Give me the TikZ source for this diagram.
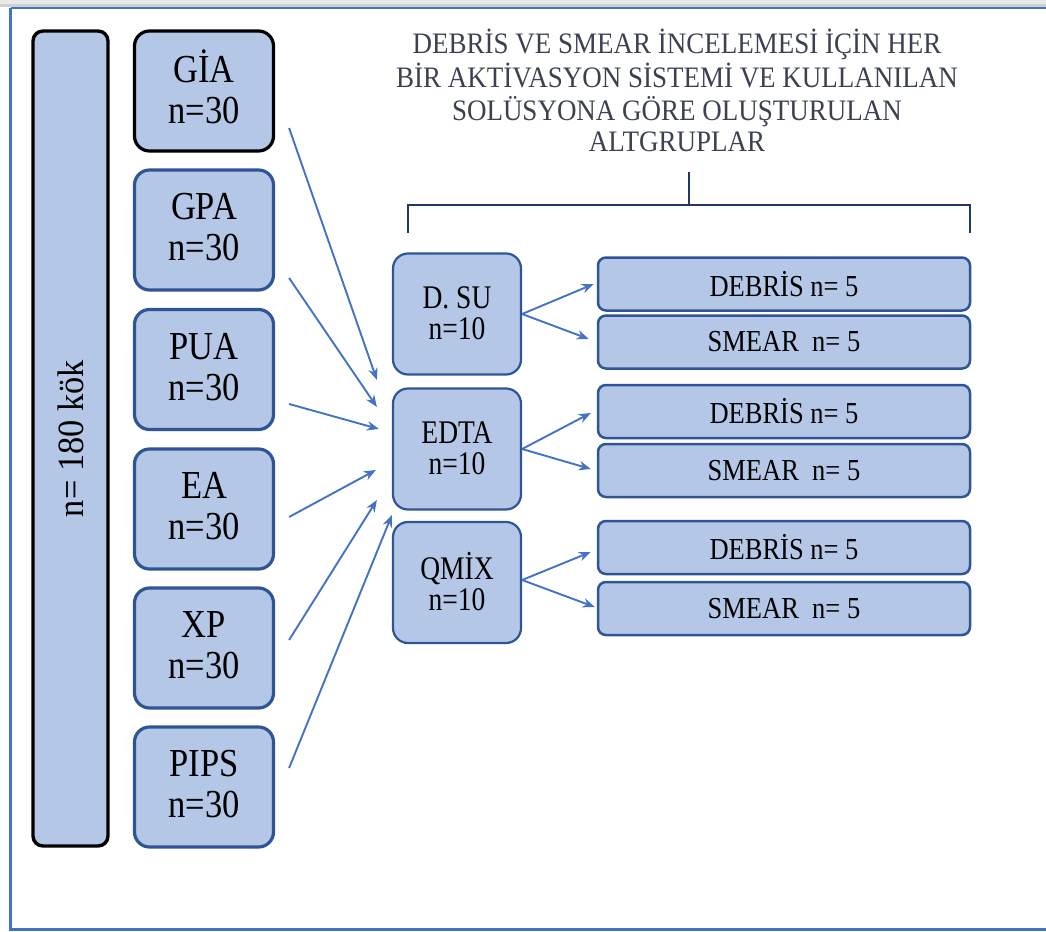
\documentclass[tikz,border=0pt]{standalone}
\usepackage{fontspec}
\setmainfont{Liberation Serif}
\usepackage{graphicx}
\usetikzlibrary{arrows.meta}
\definecolor{fillc}{HTML}{B4C7E7}
\definecolor{bdr}{HTML}{2F5597}
\definecolor{arrc}{HTML}{4472C4}
\definecolor{navyc}{HTML}{203864}
\definecolor{framec}{HTML}{4472C4}
\definecolor{titlec}{HTML}{3B4150}
\newcommand{\vst}[3]{\raisebox{#2}[\height][\depth]{\scalebox{1}[#1]{#3}}}
\newcommand{\twol}[2]{\begin{tabular}{@{}c@{}}#1\\#2\end{tabular}}
\begin{document}
\begin{tikzpicture}[x=1pt,y=-1pt,
  lbox/.style={draw=bdr, fill=fillc, line width=3.2pt, rounded corners=15pt, minimum width=139pt, minimum height=120pt, inner sep=0pt, font=\fontsize{34.5}{35.5}\selectfont},
  mbox/.style={draw=bdr, fill=fillc, line width=2.2pt, rounded corners=15pt, minimum width=128pt, minimum height=121pt, inner sep=0pt, font=\fontsize{27.5}{26}\selectfont},
  rbox/.style={draw=bdr, fill=fillc, line width=2.5pt, rounded corners=8pt, minimum width=372pt, minimum height=53pt, inner sep=0pt, font=\fontsize{26.5}{26}\selectfont},
  bigbar/.style={draw=black, fill=fillc, line width=3.4pt, rounded corners=10pt, minimum width=815pt, minimum height=75pt, inner sep=0pt, font=\fontsize{37}{37}\selectfont},
  arr/.style={draw=arrc, line width=1.9pt, -{Stealth[length=12pt,width=9.5pt]}},
  bracel/.style={draw=navyc, line width=2.6pt},
  frameline/.style={draw=framec, line width=2.6pt}
]
\useasboundingbox (0,0) rectangle (1046,931);
% window frame
\fill[gray!18] (0,0) rectangle (1046,4);
\fill[gray!38] (0,4) rectangle (1046,6.7);
\draw[frameline] (10.5,8) -- (1046,8);
\draw[frameline] (10.5,8) -- (10.5,929.5) -- (1046,929.5);

% big bar
\node[bigbar, rotate=90] (bar) at (70.5,438.5) {\scalebox{0.93}[1]{n= 180 kök}};

% left boxes
\node[lbox, draw=black] (gia) at (204,91) {\vst{1.15}{-2pt}{\twol{GİA}{n=30}}};
\node[lbox] (gpa) at (204,230) {\vst{1.15}{-2pt}{\twol{GPA}{n=30}}};
\node[lbox] (pua) at (204,369.5) {\vst{1.15}{-2pt}{\twol{PUA}{n=30}}};
\node[lbox] (ea) at (204,509) {\vst{1.15}{-2pt}{\twol{EA}{n=30}}};
\node[lbox] (xp) at (204,648) {\vst{1.15}{-2pt}{\twol{XP}{n=30}}};
\node[lbox] (pips) at (204,787) {\vst{1.15}{-2pt}{\twol{PIPS}{n=30}}};

% middle boxes
\node[mbox] (dsu) at (457,314) {\vst{1.2}{-3.5pt}{\twol{D. SU}{n=10}}};
\node[mbox] (edta) at (457,449) {\vst{1.2}{-3.5pt}{\twol{EDTA}{n=10}}};
\node[mbox] (qmix) at (457,582.5) {\vst{1.2}{-3.5pt}{\twol{QMİX}{n=10}}};

% right boxes
\node[rbox] (d1) at (784,284) {\vst{1.15}{0pt}{DEBRİS n= 5}};
\node[rbox] (s1) at (784,342) {\vst{1.15}{0pt}{SMEAR\ \ n= 5}};
\node[rbox] (d2) at (784,411.5) {\vst{1.15}{0pt}{DEBRİS n= 5}};
\node[rbox] (s2) at (784,470.5) {\vst{1.15}{0pt}{SMEAR\ \ n= 5}};
\node[rbox] (d3) at (784,547.5) {\vst{1.15}{0pt}{DEBRİS n= 5}};
\node[rbox] (s3) at (784,608.5) {\vst{1.15}{0pt}{SMEAR\ \ n= 5}};

% title
\node[text=titlec, font=\fontsize{27}{28}\selectfont, inner sep=0pt] (title) at (677,95)
  {\vst{1.1}{0pt}{\begin{tabular}{@{}c@{}}DEBRİS VE SMEAR İNCELEMESİ İÇİN HER\\BİR AKTİVASYON SİSTEMİ VE KULLANILAN\\SOLÜSYONA GÖRE OLUŞTURULAN\\ALTGRUPLAR\end{tabular}}};

% brace
\coordinate (bl) at (408,233);
\coordinate (br) at (970,233);
\coordinate (bc) at (689,205);
\coordinate (btop) at (689,172);
\draw[bracel] (bl) -- (408,205) -- (970,205) -- (br);
\draw[bracel] (bc) -- (btop);

% left arrows
\coordinate (s1a) at ([shift={(14,37)}]gia.east);
\coordinate (s2a) at ([shift={(14,48)}]gpa.east);
\coordinate (s3a) at ([shift={(14,34.5)}]pua.east);
\coordinate (s4a) at ([shift={(14,8)}]ea.east);
\coordinate (s5a) at ([shift={(14,-8)}]xp.east);
\coordinate (s6a) at ([shift={(14,-19)}]pips.east);
\coordinate (t1a) at ([shift={(-15,-69)}]edta.west);
\coordinate (t2a) at ([shift={(-15,-42)}]edta.west);
\coordinate (t3a) at ([shift={(-13,-20)}]edta.west);
\coordinate (t4a) at ([shift={(-16,21)}]edta.west);
\coordinate (t5a) at ([shift={(-15,51)}]edta.west);
\coordinate (t6a) at ([shift={(0,66)}]edta.west);
\draw[arr] (s1a) -- (t1a);
\draw[arr] (s2a) -- (t2a);
\draw[arr] (s3a) -- (t3a);
\draw[arr] (s4a) -- (t4a);
\draw[arr] (s5a) -- (t5a);
\draw[arr] (s6a) -- (t6a);

% right arrows
\draw[arr] (dsu.east) -- ([shift={(-3,0)}]d1.west);
\draw[arr] (dsu.east) -- ([shift={(-8,-3)}]s1.west);
\draw[arr] (edta.east) -- ([shift={(-6,1.5)}]d2.west);
\draw[arr] (edta.east) -- ([shift={(-6,-1.5)}]s2.west);
\draw[arr] ([shift={(0,-2.5)}]qmix.east) -- ([shift={(-6,4.5)}]d3.west);
\draw[arr] ([shift={(0,-2.5)}]qmix.east) -- ([shift={(-2,-1.5)}]s3.west);
\end{tikzpicture}
\end{document}
